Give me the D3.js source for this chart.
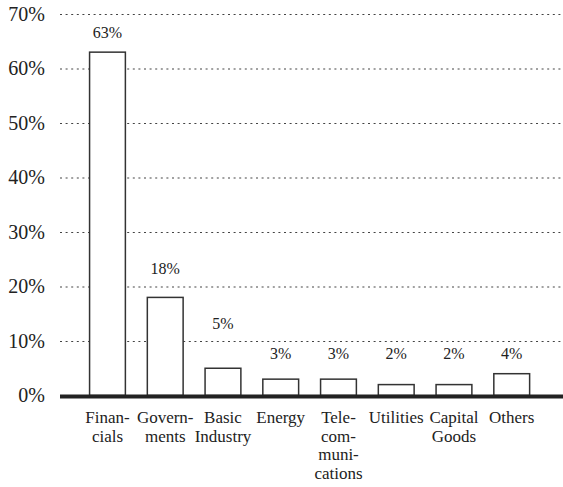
<!DOCTYPE html>
<html>
<head>
<meta charset="utf-8">
<script src="https://cdn.jsdelivr.net/npm/d3@7"></script>
</head>
<body style="margin:0; background:#fff">
<div id="chart"></div>
<script>
// chart data
var categories = ["Finan-|cials", "Govern-|ments", "Basic|Industry", "Energy",
                  "Tele-|com-|muni-|cations", "Utilities", "Capital|Goods", "Others"];
var shares = [63, 18, 5, 3, 3, 2, 2, 4];
var tickValues = [0, 10, 20, 30, 40, 50, 60, 70];

var font = "Liberation Serif";

// svg size
var svgWidth = 563;
var svgHeight = 487;
var left = 60;

var svg = d3.select("#chart")
    .append("svg")
    .attr("width", svgWidth)
    .attr("height", svgHeight)
    .attr("font-family", font);

var x = d3.scaleBand()
    .domain(categories)
    .range([78.6, 540.6])
    .paddingInner(0.38)
    .paddingOuter(0.19);

var y = d3.scaleLinear()
    .domain([0, 70])
    .range([395.5, 14]);

// gridlines + tick labels
var yAxis = d3.axisLeft(y)
    .tickValues(tickValues)
    .tickSize(-(svgWidth - left))
    .tickPadding(15)
    .tickFormat(d => d + "%");

var ga = svg.append("g")
    .attr("transform", `translate(${left},0)`)
    .call(yAxis)
    .attr("font-family", font)
    .attr("font-size", 20);
ga.select(".domain").remove();
ga.selectAll(".tick line")
    .attr("stroke", "#444")
    .attr("stroke-width", 1.2)
    .attr("stroke-dasharray", "2,3.6");
ga.selectAll(".tick text")
    .attr("font-family", font)
    .attr("fill", "#222");

// bars
svg.selectAll("rect.bar")
    .data(shares)
    .enter()
    .append("rect")
    .attr("class", "bar")
    .attr("x", (d, i) => x(categories[i]))
    .attr("y", d => y(d))
    .attr("width", x.bandwidth())
    .attr("height", d => y(0) - y(d))
    .attr("fill", "#fff")
    .attr("stroke", "#333")
    .attr("stroke-width", 1.5);

// baseline
svg.append("line")
    .attr("x1", left)
    .attr("x2", svgWidth)
    .attr("y1", y(0) + 1)
    .attr("y2", y(0) + 1)
    .attr("stroke", "#222")
    .attr("stroke-width", 4);

// value labels, kept clear of the gridlines
function labelY(d) {
    var c = y(d) - 20;
    c = Math.min(c, y(10) + 12);
    tickValues.slice(1).forEach(function (t) {
        if (Math.abs(c - y(t)) < 10) c = y(t) - 18;
    });
    return c;
}

svg.selectAll("text.value")
    .data(shares)
    .enter()
    .append("text")
    .attr("class", "value")
    .attr("x", (d, i) => x(categories[i]) + x.bandwidth() / 2)
    .attr("y", d => labelY(d))
    .attr("dy", "0.35em")
    .attr("fill", "#222")
    .attr("font-family", font)
    .attr("font-size", 16)
    .attr("text-anchor", "middle")
    .text(d => d + "%");

// category labels
var cat = svg.selectAll("text.cat")
    .data(categories)
    .enter()
    .append("text")
    .attr("class", "cat")
    .attr("x", d => x(d) + x.bandwidth() / 2)
    .attr("y", 423)
    .attr("fill", "#222")
    .attr("font-family", font)
    .attr("font-size", 17)
    .attr("text-anchor", "middle");

cat.selectAll("tspan")
    .data(d => d.split("|").map(s => ({ s: s, x: x(d) + x.bandwidth() / 2 })))
    .enter()
    .append("tspan")
    .attr("x", d => d.x)
    .attr("dy", (d, i) => i === 0 ? 0 : 18.5)
    .text(d => d.s);
</script>
</body>
</html>
